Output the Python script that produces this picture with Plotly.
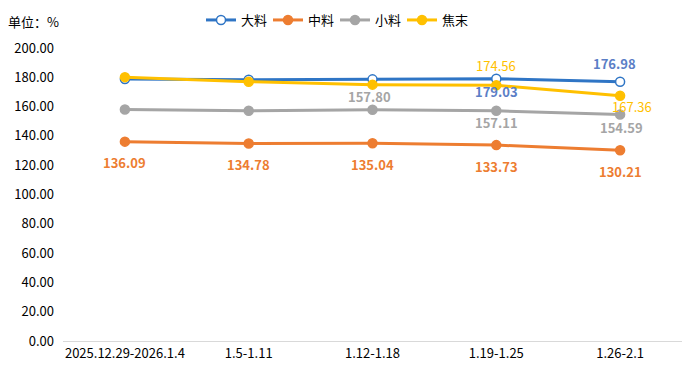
import plotly.graph_objects as go

categories = ["2025.12.29-2026.1.4", "1.5-1.11", "1.12-1.18", "1.19-1.25", "1.26-2.1"]
series_names = ["大料", "中料", "小料", "焦末"]
da_liao = [178.8, 178.3, 178.6, 179.03, 176.98]
zhong_liao = [136.09, 134.78, 135.04, 133.73, 130.21]
xiao_liao = [158.0, 157.2, 157.80, 157.11, 154.59]
jiao_mo = [180.1, 177.0, 175.0, 174.56, 167.36]
y_ticks = [0, 20, 40, 60, 80, 100, 120, 140, 160, 180, 200]

FONT = "Microsoft YaHei, Noto Sans CJK SC, sans-serif"
colors = {"大料": "#2F75C5", "中料": "#ED7D31", "小料": "#A5A5A5", "焦末": "#FFC000"}
label_colors = {"大料": "#5B7EC6", "中料": "#ED7D31", "小料": "#A5A5A5", "焦末": "#FFC000"}
label_bold = {"大料": True, "中料": True, "小料": True, "焦末": False}
# (point index, yshift px, xshift px) for shown data labels
label_spec = {
    "大料": [(3, -13, 0), (4, 18, -6)],
    "中料": [(0, -21, 0), (1, -21, 0), (2, -21, 0), (3, -21, 0), (4, -21, 0)],
    "小料": [(2, 13, -3), (3, -12, 0), (4, -13, 1)],
    "焦末": [(3, 20, 0), (4, -11, 12)],
}
data = {"大料": da_liao, "中料": zhong_liao, "小料": xiao_liao, "焦末": jiao_mo}
legend_ids = ["legend", "legend2", "legend3", "legend4"]

fig = go.Figure()
for i, name in enumerate(series_names):
    vals = data[name]
    hollow = name == "大料"
    fig.add_trace(go.Scatter(
        x=categories, y=vals, name=name, mode="lines+markers",
        legend=legend_ids[i],
        line=dict(color=colors[name], width=3),
        marker=dict(size=9, symbol="circle",
                    color="white" if hollow else colors[name],
                    line=dict(color=colors[name], width=1.5)),
    ))

annotations = []
for name in series_names:
    vals = data[name]
    for idx, ys, xs in label_spec[name]:
        txt = f"{vals[idx]:.2f}"
        if label_bold[name]:
            txt = f"<b>{txt}</b>"
        annotations.append(dict(
            x=categories[idx], y=vals[idx], text=txt, showarrow=False,
            yshift=ys, xshift=xs,
            font=dict(family=FONT, size=13, color=label_colors[name]),
        ))
annotations.append(dict(
    xref="paper", yref="paper", x=-0.092, y=1.089, xanchor="left", yanchor="middle",
    text="单位：%", showarrow=False, font=dict(family=FONT, size=13, color="#000000"),
))

layout_legends = {}
for i, lid in enumerate(legend_ids):
    layout_legends[lid] = dict(
        orientation="h", xref="container", yref="container",
        x=(201 + 67 * i) / 691, y=1 - 20 / 372, xanchor="left", yanchor="middle",
        font=dict(family=FONT, size=13, color="#000000"),
        itemwidth=30, bgcolor="rgba(0,0,0,0)",
    )

fig.update_layout(
    width=691, height=372,
    margin=dict(l=63, r=9, t=48, b=31, autoexpand=False),
    paper_bgcolor="white", plot_bgcolor="white",
    font=dict(family=FONT, size=13, color="#000000"),
    showlegend=True,
    annotations=annotations,
    **layout_legends,
)
fig.update_xaxes(range=[-0.5, 4.5], showgrid=False, showline=True, linecolor="#D9D9D9",
                 linewidth=1, ticks="", automargin=False,
                 tickfont=dict(family=FONT, size=13, color="#000000"),
                 zeroline=False)
fig.update_yaxes(range=[0, 200], tickvals=y_ticks, automargin=False,
                 ticktext=[f"{v:.2f}" for v in y_ticks],
                 showgrid=False, showline=False, zeroline=False, ticks="",
                 ticklabelstandoff=8,
                 tickfont=dict(family=FONT, size=13, color="#000000"))

fig.write_html("out.html", config={"displayModeBar": False},
               post_script="document.body.style.margin='0';")
